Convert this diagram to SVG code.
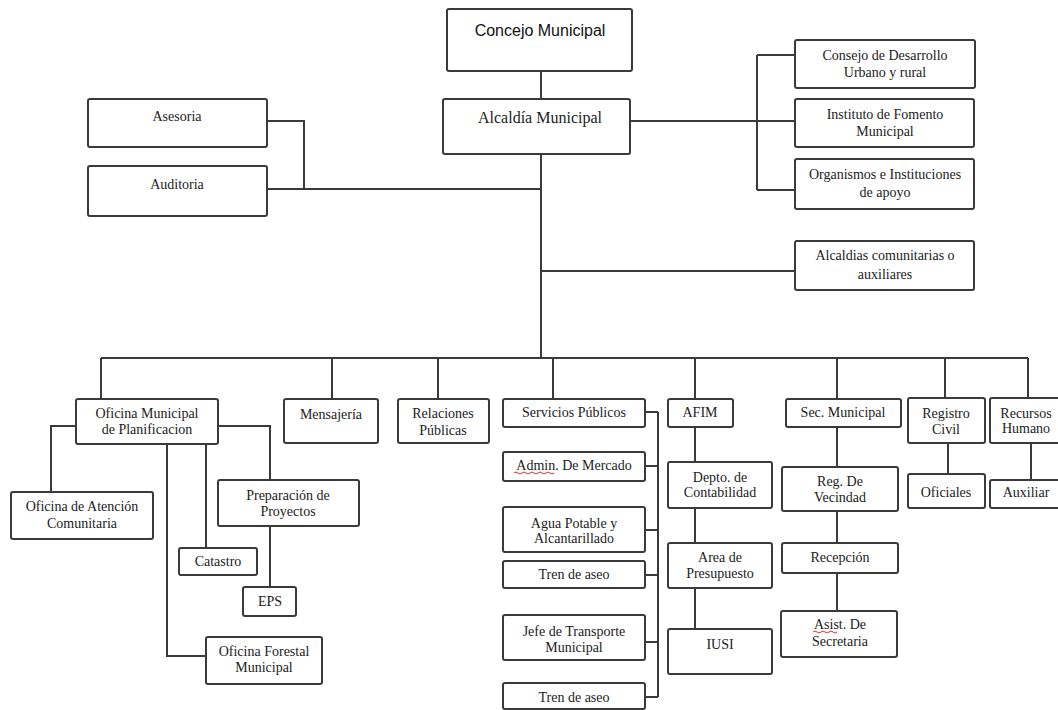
<svg xmlns="http://www.w3.org/2000/svg" width="1058" height="710" viewBox="0 0 1058 710">
<style>
.b{fill:#fff;stroke:#3a3a3a;stroke-width:2}
.t{font-family:"Liberation Serif","Times New Roman",serif;font-size:14px;fill:#222;text-anchor:middle}
.s{font-family:"Liberation Sans",Arial,sans-serif;font-size:16px;fill:#111;text-anchor:middle}
.c{fill:none;stroke:#3a3a3a;stroke-width:2}
.w{fill:none;stroke:#d03030;stroke-width:1}
</style>
<rect width="1058" height="710" fill="#fff"/>
<g id="connectors">
<path class="c" d="M541 71V99M541 154V358M267 121H304V189M267 189H541M630 121H795M757 55V190M757 55H795M757 190H795M541 271H795"/>
<path class="c" d="M101 358H1028M101 358V399M332 358V399M438 358V399M553 358V399M695 358V399M837 358V399M945 358V398M1028 358V398"/>
<path class="c" d="M76 426H51V492M218 426H270V480M206 444V548M167 444V656H206M270 526V587"/>
<path class="c" d="M658 412V697M645 412H658M645 466H658M645 530H658M645 575H658M645 642H658M645 697H658"/>
<path class="c" d="M695 427V462M695 508V543M695 588V629M837 427V467M837 511V543M837 573V611M948 443V474M1031 443V480"/>
</g>
<g id="concejo"><rect class="b" x="447" y="9" width="185" height="62" rx="2"/><text class="s" x="540" y="36">Concejo Municipal</text></g>
<g id="alcaldia"><rect class="b" x="443" y="99" width="187" height="55" rx="2"/><text class="t" style="font-size:16px" x="540" y="123">Alcaldía Municipal</text></g>
<g id="asesoria"><rect class="b" x="88" y="99" width="179" height="48" rx="2"/><text class="t" x="177" y="121">Asesoria</text></g>
<g id="auditoria"><rect class="b" x="88" y="166" width="179" height="50" rx="2"/><text class="t" x="177" y="189">Auditoria</text></g>
<g id="consejo"><rect class="b" x="795" y="40" width="180" height="48" rx="2"/><text class="t" x="885" y="60">Consejo de Desarrollo</text><text class="t" x="885" y="77">Urbano y rural</text></g>
<g id="instituto"><rect class="b" x="795" y="99" width="179" height="48" rx="2"/><text class="t" x="885" y="119">Instituto de Fomento</text><text class="t" x="885" y="136">Municipal</text></g>
<g id="organismos"><rect class="b" x="795" y="159" width="179" height="50" rx="2"/><text class="t" x="885" y="179">Organismos e Instituciones</text><text class="t" x="885" y="197">de apoyo</text></g>
<g id="alcaldias-com"><rect class="b" x="795" y="241" width="179" height="49" rx="2"/><text class="t" x="885" y="260">Alcaldias comunitarias o</text><text class="t" x="885" y="279">auxiliares</text></g>
<g id="omp"><rect class="b" x="76" y="399" width="142" height="45" rx="2"/><text class="t" x="147" y="418">Oficina Municipal</text><text class="t" x="147" y="434">de Planificacion</text></g>
<g id="mensajeria"><rect class="b" x="284" y="399" width="94" height="44" rx="2"/><text class="t" x="331" y="419">Mensajería</text></g>
<g id="relaciones"><rect class="b" x="398" y="399" width="91" height="44" rx="2"/><text class="t" x="443" y="418">Relaciones</text><text class="t" x="443" y="435">Públicas</text></g>
<g id="servicios"><rect class="b" x="503" y="399" width="142" height="28" rx="2"/><text class="t" x="574" y="417">Servicios Públicos</text></g>
<g id="afim"><rect class="b" x="668" y="399" width="65" height="28" rx="2"/><text class="t" x="700" y="417">AFIM</text></g>
<g id="secmun"><rect class="b" x="786" y="399" width="115" height="28" rx="2"/><text class="t" x="843" y="417">Sec. Municipal</text></g>
<g id="registro"><rect class="b" x="908" y="398" width="77" height="45" rx="2"/><text class="t" x="946" y="418">Registro</text><text class="t" x="946" y="434">Civil</text></g>
<g id="recursos"><rect class="b" x="990" y="398" width="75" height="45" rx="2"/><text class="t" x="1026" y="418">Recursos</text><text class="t" x="1026" y="433">Humano</text></g>
<g id="atencion"><rect class="b" x="11" y="492" width="142" height="47" rx="2"/><text class="t" x="82" y="511">Oficina de Atención</text><text class="t" x="82" y="528">Comunitaria</text></g>
<g id="catastro"><rect class="b" x="179" y="548" width="78" height="27" rx="2"/><text class="t" x="218" y="566">Catastro</text></g>
<g id="preparacion"><rect class="b" x="218" y="480" width="141" height="46" rx="2"/><text class="t" x="288" y="500">Preparación de</text><text class="t" x="288" y="516">Proyectos</text></g>
<g id="eps"><rect class="b" x="243" y="587" width="53" height="29" rx="2"/><text class="t" x="270" y="606">EPS</text></g>
<g id="forestal"><rect class="b" x="206" y="637" width="116" height="47" rx="2"/><text class="t" x="264" y="656">Oficina Forestal</text><text class="t" x="264" y="672">Municipal</text></g>
<g id="mercado"><rect class="b" x="503" y="452" width="142" height="29" rx="2"/><text class="t" x="574" y="470">Admin. De Mercado</text><path class="w" d="M514 473q2-2 4 0t4 0t4 0t4 0t4 0t4 0t4 0t4 0t4 0t4 0"/></g>
<g id="agua"><rect class="b" x="503" y="507" width="142" height="45" rx="2"/><text class="t" x="574" y="528">Agua Potable y</text><text class="t" x="574" y="543">Alcantarillado</text></g>
<g id="tren1"><rect class="b" x="503" y="561" width="142" height="27" rx="2"/><text class="t" x="574" y="579">Tren de aseo</text></g>
<g id="transporte"><rect class="b" x="503" y="615" width="142" height="45" rx="2"/><text class="t" x="574" y="636">Jefe de Transporte</text><text class="t" x="574" y="652">Municipal</text></g>
<g id="tren2"><rect class="b" x="503" y="683" width="142" height="26" rx="2"/><text class="t" x="574" y="702">Tren de aseo</text></g>
<g id="depto"><rect class="b" x="668" y="462" width="104" height="46" rx="2"/><text class="t" x="720" y="482">Depto. de</text><text class="t" x="720" y="497">Contabilidad</text></g>
<g id="area"><rect class="b" x="668" y="543" width="104" height="45" rx="2"/><text class="t" x="720" y="562">Area de</text><text class="t" x="720" y="578">Presupuesto</text></g>
<g id="iusi"><rect class="b" x="668" y="629" width="104" height="45" rx="2"/><text class="t" x="720" y="649">IUSI</text></g>
<g id="vecindad"><rect class="b" x="782" y="467" width="116" height="44" rx="2"/><text class="t" x="840" y="486">Reg. De</text><text class="t" x="840" y="502">Vecindad</text></g>
<g id="recepcion"><rect class="b" x="782" y="543" width="116" height="30" rx="2"/><text class="t" x="840" y="562">Recepción</text></g>
<g id="asist"><rect class="b" x="781" y="611" width="116" height="46" rx="2"/><text class="t" x="840" y="629">Asist. De</text><text class="t" x="840" y="646">Secretaria</text><path class="w" d="M813 632q2-2 4 0t4 0t4 0t4 0t4 0t4 0"/></g>
<g id="oficiales"><rect class="b" x="908" y="474" width="77" height="34" rx="2"/><text class="t" x="946" y="497">Oficiales</text></g>
<g id="auxiliar"><rect class="b" x="990" y="480" width="75" height="28" rx="2"/><text class="t" x="1026" y="497">Auxiliar</text></g>
</svg>
